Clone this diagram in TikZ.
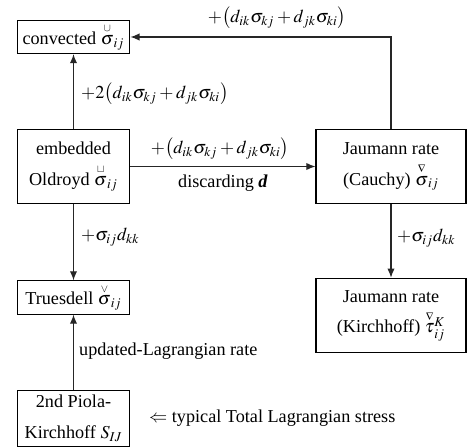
\documentclass[tikz,border=0pt]{standalone}
\usepackage{amsmath}
\usepackage{mathptmx}
\usepackage[no-math]{fontspec}
\setmainfont{Liberation Serif}
\usetikzlibrary{arrows.meta,positioning}

\newcommand{\ratesym}[2]{\overset{\scriptscriptstyle #1}{#2}}

\begin{document}
\begin{tikzpicture}[x=0.55pt,y=-0.55pt,
    ratebox/.style={draw, line width=0.6pt, align=center, inner sep=2pt,
      font=\fontsize{10}{17}\selectfont},
    rateflow/.style={draw=black!85, line width=0.6pt, -{Latex[length=5pt,width=4pt]}},
    lbl/.style={font=\fontsize{10}{12}\selectfont, inner sep=1pt}]
  \useasboundingbox (0,0) rectangle (468,448);

  % stress rates, left column
  \node[ratebox, minimum width=62pt, minimum height=18pt] (conv) at (73.5,37)
    {convected $\ratesym{\cup}{\sigma}_{ij}$};
  \node[ratebox, minimum width=62pt, minimum height=41pt] (oldr) at (73.5,166.5)
    {embedded\\Oldroyd $\ratesym{\sqcup}{\sigma}_{ij}$};
  \node[ratebox, minimum width=62pt, minimum height=17pt] (trues) at (73.5,297.5)
    {Truesdell $\ratesym{\vee}{\sigma}_{ij}$};
  \node[ratebox, minimum width=62pt, minimum height=31pt] (pk2) at (73.5,418.5)
    {2nd Piola-\\Kirchhoff $S_{IJ}$};

  % Jaumann rates, right column
  \node[ratebox, minimum width=82.5pt, minimum height=41pt] (jcau) at (391,166.5)
    {Jaumann rate\\(Cauchy) $\ratesym{\nabla}{\sigma}_{ij}$};
  \node[ratebox, minimum width=82.5pt, minimum height=41pt] (jkir) at (391,315.5)
    {Jaumann rate\\(Kirchhoff) $\ratesym{\nabla}{\tau}{}^{K}_{ij}$};

  % connectors
  \draw[rateflow] (jcau.north) |- (conv.east);
  \draw[rateflow] (oldr.north) -- (conv.south);
  \draw[rateflow] (oldr.east) -- (jcau.west);
  \draw[rateflow] (oldr.south) -- (trues.north);
  \draw[rateflow] (jcau.south) -- (jkir.north);
  \draw[rateflow] (pk2.north) -- (trues.south);

  % labels
  \node[lbl] (ltop) at (277,18)
    {$+\bigl(d_{ik}\sigma_{kj}+d_{jk}\sigma_{ki}\bigr)$};
  \node[lbl, anchor=west] (lconv) at (79,94)
    {$+2\bigl(d_{ik}\sigma_{kj}+d_{jk}\sigma_{ki}\bigr)$};
  \node[lbl] (ljau) at (220,149)
    {$+\bigl(d_{ik}\sigma_{kj}+d_{jk}\sigma_{ki}\bigr)$};
  \node[lbl] (ldisc) at (223,183) {discarding \textbf{\itshape d}};
  \node[lbl, anchor=west] (ltrues) at (79,237) {$+\sigma_{ij}d_{kk}$};
  \node[lbl, anchor=west] (lkir) at (395,238) {$+\sigma_{ij}d_{kk}$};
  \node[lbl, anchor=west] (lupd) at (77,351) {updated-Lagrangian rate};
  \node[lbl, anchor=west] (ltot) at (147,418)
    {$\Leftarrow$ typical Total Lagrangian stress};
\end{tikzpicture}
\end{document}
